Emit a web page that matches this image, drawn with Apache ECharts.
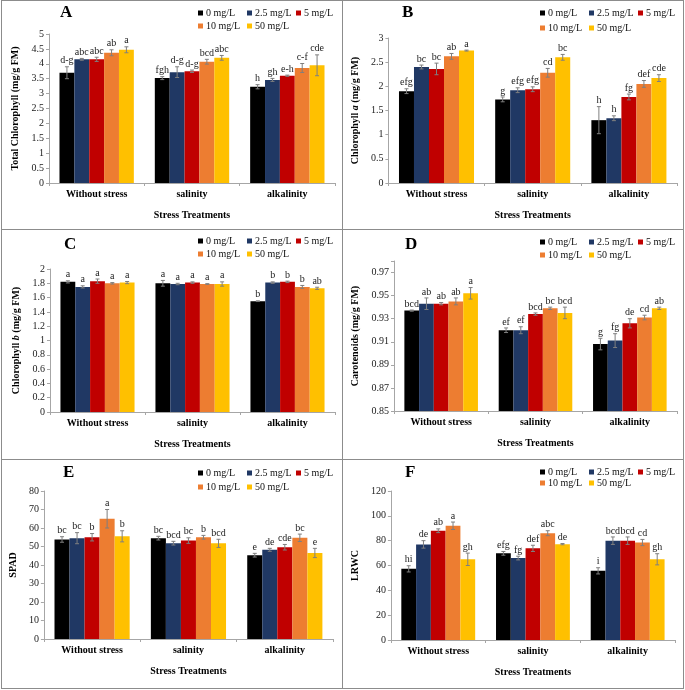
<!DOCTYPE html>
<html>
<head>
<meta charset="utf-8">
<script src="https://cdn.jsdelivr.net/npm/echarts@6/dist/echarts.min.js"></script>
<style>
html,body{margin:0;padding:0;background:#fff;}
body{width:685px;height:690px;position:relative;overflow:hidden;}
.panel{position:absolute;}
.line{position:absolute;background:#8c8c8c;pointer-events:none;z-index:10;}
</style>
</head>
<body>
<div id="pA" class="panel" style="left:0;top:0;width:342px;height:229px"></div>
<div id="pB" class="panel" style="left:342px;top:0;width:343px;height:229px"></div>
<div id="pC" class="panel" style="left:0;top:230px;width:342px;height:229px"></div>
<div id="pD" class="panel" style="left:342px;top:230px;width:343px;height:229px"></div>
<div id="pE" class="panel" style="left:0;top:460px;width:342px;height:229px"></div>
<div id="pF" class="panel" style="left:342px;top:460px;width:343px;height:229px"></div>
<div class="line" style="left:1px;top:0;width:683px;height:1px"></div>
<div class="line" style="left:1px;top:229px;width:683px;height:1px"></div>
<div class="line" style="left:1px;top:459px;width:683px;height:1px"></div>
<div class="line" style="left:1px;top:688px;width:683px;height:1px"></div>
<div class="line" style="left:1px;top:0;width:1px;height:689px"></div>
<div class="line" style="left:342px;top:0;width:1px;height:689px"></div>
<div class="line" style="left:683px;top:0;width:1px;height:689px"></div>
<script>
const categories = ['Without stress', 'salinity', 'alkalinity'];
const doses = ['0 mg/L', '2.5 mg/L', '5 mg/L', '10 mg/L', '50 mg/L'];
const colors = ['#000000', '#203864', '#C00000', '#ED7D31', '#FFC000'];

// rows = dose, columns = category
const totalChl = [[3.70, 3.52, 3.23], [4.15, 3.72, 3.46], [4.15, 3.75, 3.60], [4.37, 4.07, 3.86], [4.47, 4.20, 3.95]];
const totalChlErr = [[0.20, 0.05, 0.07], [0.03, 0.18, 0.05], [0.07, 0.04, 0.02], [0.10, 0.08, 0.15], [0.10, 0.08, 0.35]];
const totalChlLetters = [['d-g', 'fgh', 'h'], ['abc', 'd-g', 'gh'], ['abc', 'd-g', 'e-h'], ['ab', 'bcd', 'c-f'], ['a', 'abc', 'cde']];

const chlA = [[1.90, 1.73, 1.30], [2.40, 1.92, 1.34], [2.36, 1.94, 1.78], [2.62, 2.28, 2.05], [2.74, 2.60, 2.17]];
const chlAErr = [[0.05, 0.05, 0.28], [0.04, 0.05, 0.05], [0.12, 0.05, 0.06], [0.06, 0.09, 0.07], [0.01, 0.06, 0.07]];
const chlALetters = [['efg', 'g', 'h'], ['bc', 'efg', 'h'], ['bc', 'efg', 'fg'], ['ab', 'cd', 'def'], ['a', 'bc', 'cde']];

const chlB = [[1.82, 1.80, 1.55], [1.75, 1.79, 1.81], [1.83, 1.81, 1.82], [1.80, 1.79, 1.75], [1.81, 1.79, 1.73]];
const chlBErr = [[0.015, 0.04, 0.005], [0.015, 0.01, 0.01], [0.03, 0.01, 0.01], [0.01, 0.005, 0.02], [0.015, 0.03, 0.015]];
const chlBLetters = [['a', 'a', 'b'], ['a', 'a', 'b'], ['a', 'a', 'b'], ['a', 'a', 'b'], ['a', 'a', 'ab']];

const carot = [[0.937, 0.920, 0.908], [0.943, 0.920, 0.911], [0.943, 0.934, 0.926], [0.945, 0.939, 0.931], [0.952, 0.935, 0.939]];
const carotErr = [[0.0005, 0.002, 0.005], [0.005, 0.003, 0.006], [0.001, 0.001, 0.004], [0.003, 0.001, 0.002], [0.005, 0.005, 0.001]];
const carotLetters = [['bcd', 'ef', 'g'], ['ab', 'ef', 'fg'], ['ab', 'bcd', 'de'], ['ab', 'bc', 'cd'], ['a', 'bcd', 'ab']];

const spad = [[53.8, 54.5, 45.3], [54.5, 51.8, 48.2], [55.0, 53.2, 49.6], [65.0, 55.0, 54.7], [55.5, 51.7, 46.5]];
const spadErr = [[1.5, 1.0, 1.0], [3.0, 1.0, 0.8], [2.0, 1.5, 1.5], [5.0, 1.0, 2.0], [3.0, 2.2, 2.5]];
const spadLetters = [['bc', 'bc', 'e'], ['bc', 'bcd', 'de'], ['b', 'bc', 'cde'], ['a', 'b', 'bc'], ['b', 'bcd', 'e']];

const lrwc = [[57.3, 69.8, 55.7], [77.0, 66.0, 80.0], [88.0, 73.8, 80.0], [92.0, 86.0, 78.5], [65.0, 77.2, 65.0]];
const lrwcErr = [[2.5, 1.5, 2.5], [3.0, 1.5, 3.0], [1.5, 2.5, 3.0], [3.0, 2.0, 2.5], [5.0, 0.5, 4.5]];
const lrwcLetters = [['hi', 'efg', 'i'], ['de', 'fg', 'bcd'], ['ab', 'def', 'bcd'], ['a', 'abc', 'cd'], ['gh', 'de', 'gh']];

const FONT = '"Liberation Serif", "Times New Roman", serif';
const GAP = 0.22;

const panels = [
  {id: 'pA', letter: 'A', vals: totalChl, errs: totalChlErr, letters: totalChlLetters,
   yName: 'Total Chlorophyll (mg/g FM)', min: 0, max: 5, interval: 0.5,
   grid: {left: 49, top: 34, width: 286, height: 149}, yGap: 28, leg: [8, 21], title: [60, 4]},
  {id: 'pB', letter: 'B', vals: chlA, errs: chlAErr, letters: chlALetters,
   yName: 'Chlorophyll {i|a} (mg/g FM)', min: 0, max: 3, interval: 0.5,
   grid: {left: 43, top: 38, width: 292, height: 145}, yGap: 22, leg: [8, 23], title: [60, 4]},
  {id: 'pC', letter: 'C', vals: chlB, errs: chlBErr, letters: chlBLetters,
   yName: 'Chlorophyll {i|b} (mg/g FM)', min: 0, max: 2, interval: 0.2,
   grid: {left: 50, top: 39, width: 285, height: 143}, yGap: 27, leg: [6, 19], title: [64, 6]},
  {id: 'pD', letter: 'D', vals: carot, errs: carotErr, letters: carotLetters,
   yName: 'Carotenoids (mg/g FM)', min: 0.85, max: 0.98, interval: 0.02,
   grid: {left: 52, top: 31, width: 283, height: 150}, yGap: 32, leg: [7, 20], title: [63, 6], hideMax: true},
  {id: 'pE', letter: 'E', vals: spad, errs: spadErr, letters: spadLetters,
   yName: 'SPAD', min: 0, max: 80, interval: 10,
   grid: {left: 42, top: 31, width: 291, height: 148}, yGap: 23, leg: [8, 22], title: [63, 4]},
  {id: 'pF', letter: 'F', vals: lrwc, errs: lrwcErr, letters: lrwcLetters,
   yName: 'LRWC', min: 0, max: 120, interval: 20,
   grid: {left: 48, top: 31, width: 285, height: 149}, yGap: 27, leg: [7, 18], title: [63, 4]}
];

function buildOption(p) {
  const legendPos = [[198, p.leg[0]], [247, p.leg[0]], [296, p.leg[0]], [198, p.leg[1]], [247, p.leg[1]]];
  const legends = doses.map((d, i) => ({
    data: [d], left: legendPos[i][0], top: legendPos[i][1],
    icon: 'rect', itemWidth: 5, itemHeight: 5, itemGap: 0, padding: 0,
    textStyle: {fontFamily: FONT, fontSize: 10, color: '#111', padding: [0, 0, 0, -2]},
    selectedMode: false
  }));
  const series = [];
  doses.forEach((d, s) => {
    series.push({
      name: d, type: 'bar', barGap: '0%', barCategoryGap: (GAP * 100) + '%',
      itemStyle: {color: colors[s]}, data: p.vals[s], z: 2,
      emphasis: {disabled: true}
    });
  });
  doses.forEach((d, s) => {
    series.push({
      name: 'err' + s, type: 'custom', z: 5, silent: true,
      data: p.vals[s].map((v, c) => [c, v, p.errs[s][c]]),
      encode: {x: 0, y: 1},
      renderItem: function (params, api) {
        const c = api.value(0), v = api.value(1), e = api.value(2);
        const band = api.size([1, 0])[0];
        const bw = band * (1 - GAP) / 5;
        const cx = api.coord([c, v])[0] + (s - 2) * bw;
        const yt = api.coord([c, v + e])[1];
        const yb = api.coord([c, v - e])[1];
        const cap = 2;
        const st = {stroke: '#7f7f7f', lineWidth: 1};
        return {
          type: 'group', children: [
            {type: 'line', shape: {x1: cx, y1: yt, x2: cx, y2: yb}, style: st},
            {type: 'line', shape: {x1: cx - cap, y1: yt, x2: cx + cap, y2: yt}, style: st},
            {type: 'line', shape: {x1: cx - cap, y1: yb, x2: cx + cap, y2: yb}, style: st},
            {type: 'text', style: {text: p.letters[s][params.dataIndex], x: cx, y: yt - 1,
              align: 'center', verticalAlign: 'bottom', fontFamily: FONT, fontSize: 10, fill: '#222'}}
          ]
        };
      }
    });
  });
  return {
    animation: false,
    textStyle: {fontFamily: FONT},
    title: {text: p.letter, left: p.title[0], top: p.title[1], padding: 0,
      textStyle: {fontFamily: FONT, fontSize: 17, fontWeight: 'bold', color: '#000'}},
    legend: legends,
    grid: p.grid,
    xAxis: {
      type: 'category', data: categories,
      name: 'Stress Treatments', nameLocation: 'middle', nameGap: 27,
      nameTextStyle: {fontFamily: FONT, fontSize: 10, fontWeight: 'bold', color: '#000'},
      axisLine: {lineStyle: {color: '#a6a6a6'}},
      axisTick: {show: true, length: 3, lineStyle: {color: '#a6a6a6'}},
      axisLabel: {fontFamily: FONT, fontSize: 10, fontWeight: 'bold', color: '#000', margin: 6}
    },
    yAxis: {
      type: 'value', min: p.min, max: p.max, interval: p.interval,
      name: p.yName, nameLocation: 'middle', nameGap: p.yGap, nameRotate: 90,
      nameTextStyle: {fontFamily: FONT, fontSize: 10, fontWeight: 'bold', color: '#000',
        rich: {i: {fontFamily: FONT, fontSize: 10, fontWeight: 'bold', fontStyle: 'italic', color: '#000'}}},
      axisLine: {show: true, lineStyle: {color: '#a6a6a6'}},
      axisTick: {show: true, length: 3, lineStyle: {color: '#a6a6a6'}},
      splitLine: {show: false},
      axisLabel: {fontFamily: FONT, fontSize: 10, color: '#222', margin: 5,
        formatter: function (v) {
          if (p.hideMax && v > 0.975) return '';
          return String(+v.toFixed(2));
        }}
    },
    series: series
  };
}

panels.forEach(p => {
  const chart = echarts.init(document.getElementById(p.id), null, {renderer: 'canvas'});
  chart.setOption(buildOption(p));
});
</script>
</body>
</html>
